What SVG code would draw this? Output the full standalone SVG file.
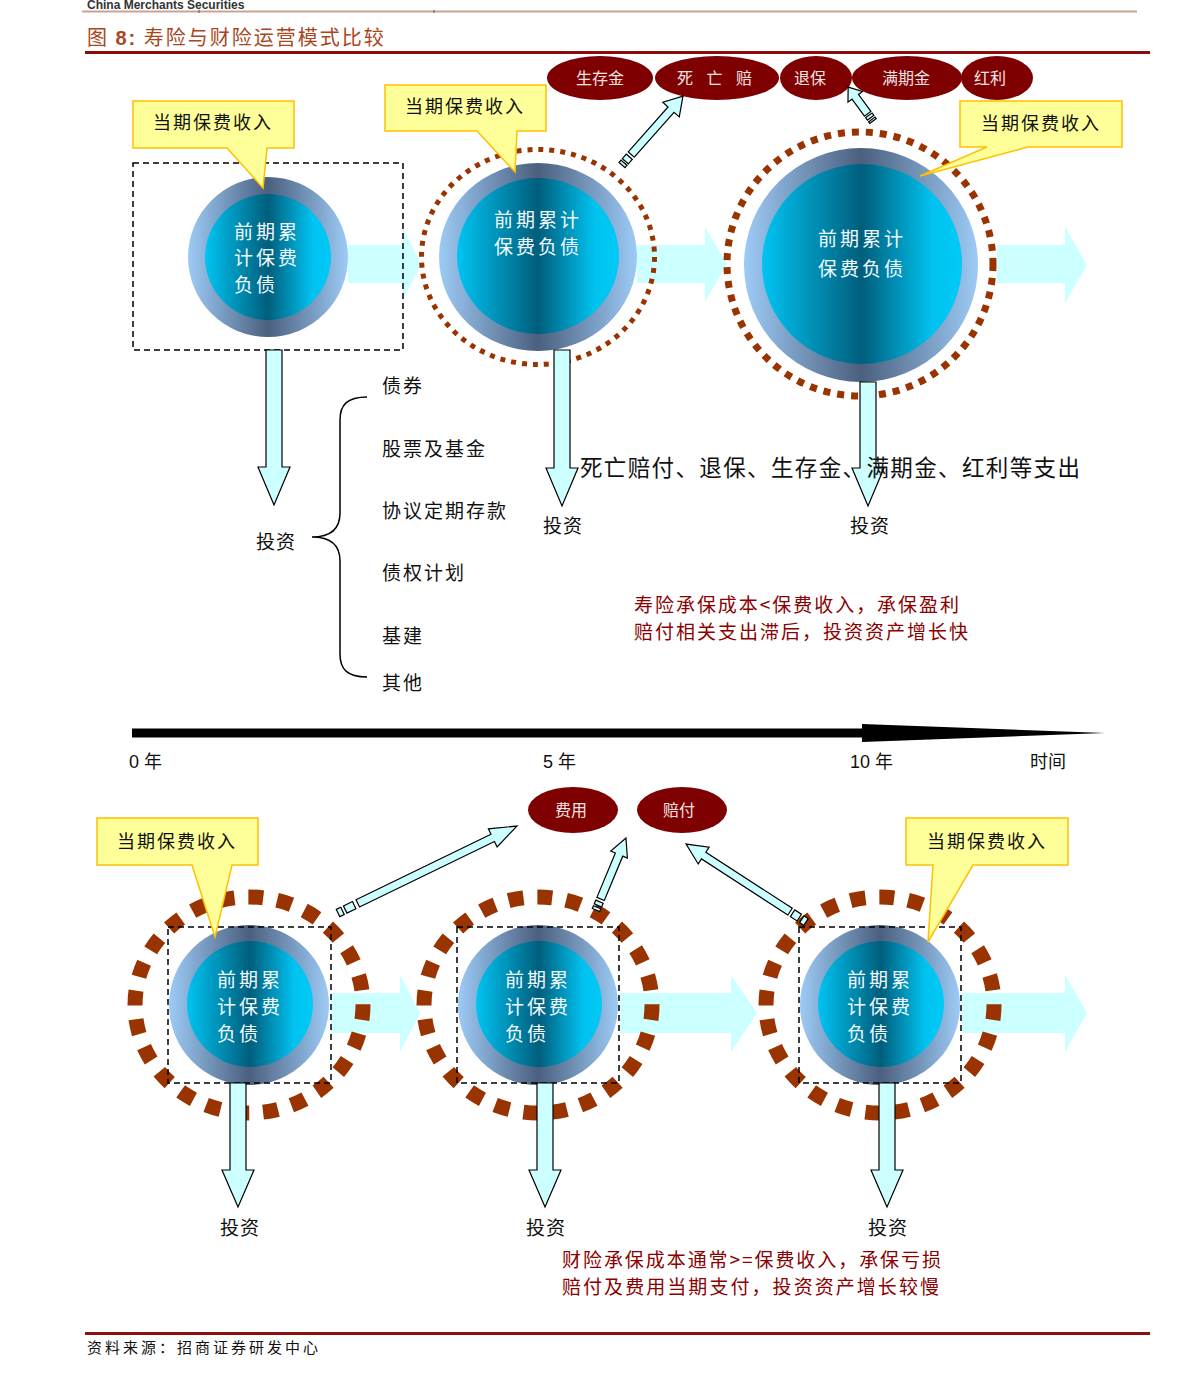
<svg xmlns="http://www.w3.org/2000/svg" width="1191" height="1378" viewBox="0 0 1191 1378">
<defs>
<linearGradient id="ringG" x1="0" y1="0" x2="1" y2="0">
<stop offset="0" stop-color="#9DCBF6"/><stop offset="0.5" stop-color="#4B5F7E"/><stop offset="1" stop-color="#9DCBF6"/>
</linearGradient>
<linearGradient id="coreG" x1="0" y1="0" x2="1" y2="0">
<stop offset="0" stop-color="#00C4F2"/><stop offset="0.5" stop-color="#005E7C"/><stop offset="0.85" stop-color="#00C2F0"/><stop offset="1" stop-color="#00CAF6"/>
</linearGradient>
<style>
.cjk{font-family:"Noto Sans CJK SC","Liberation Sans",sans-serif;}
.lat{font-family:"Liberation Sans",Arial,sans-serif;}
.lbl{font-size:19px;fill:#111;letter-spacing:1px;}
.li{font-size:19px;fill:#111;letter-spacing:2px;}
.nt{font-size:19px;fill:#F2FAFF;letter-spacing:3px;}
.call{fill:#FFFF99;stroke:#FFC000;stroke-width:1.5;}
.ct{font-size:18px;fill:#111;letter-spacing:2px;text-anchor:middle;}
.ov{fill:#7F0000;}
.ovt{font-size:16px;fill:#F4E4E4;text-anchor:middle;}
.ha{fill:#CCFFFF;stroke:none;}
.va{fill:#CCFFFF;stroke:#000;stroke-width:1.2;}
.dash{fill:none;stroke:#000;stroke-width:1.5;stroke-dasharray:6 4;}
.red{font-size:19px;fill:#8B0000;letter-spacing:1px;}
</style>
</defs>
<rect width="1191" height="1378" fill="#fff"/>

<!-- header -->
<text x="87" y="9" class="lat" font-size="12" font-weight="bold" fill="#333">China Merchants Securities</text>
<line x1="82" y1="11.5" x2="1137" y2="11.5" stroke="#C9A494" stroke-width="2"/>
<line x1="199" y1="10" x2="199" y2="13" stroke="#555" stroke-width="1"/>
<line x1="434" y1="10" x2="434" y2="13" stroke="#555" stroke-width="1"/>
<text x="87" y="45" font-size="20" fill="#A9461C" class="cjk" letter-spacing="2">图 <tspan class="lat" font-weight="bold">8:</tspan> 寿险与财险运营模式比较</text>
<line x1="85" y1="52.5" x2="1150" y2="52.5" stroke="#8B0A0A" stroke-width="3"/>

<!-- connectors -->
<g id="connectors">
<path class="ha" d="M348,245 H403 V228 L421,264 L403,300 V283 H348 Z"/>
<path class="ha" d="M637,245 H705 V227 L727,264 L705,302 V283 H637 Z"/>
<path class="ha" d="M997,245 H1065 V227 L1087,265 L1065,303 V283 H997 Z"/>
<path class="ha" d="M331,993 H400 V975 L420,1013 L400,1052 V1033 H331 Z"/>
<path class="ha" d="M620,993 H731 V975 L757,1013 L731,1052 V1033 H620 Z"/>
<path class="ha" d="M962,993 H1065 V975 L1087,1013 L1065,1052 V1033 H962 Z"/>
<path d="M132,728.5 H862 V724 L1105,733 L862,742 V737.5 H132 Z" fill="#000"/>
</g>

<!-- top node 1 -->
<g id="node-top1">
<circle cx="268" cy="257" r="80" fill="url(#ringG)"/>
<circle cx="268" cy="257" r="63" fill="url(#coreG)"/>
<text class="cjk nt" x="234" y="239">前期累</text>
<text class="cjk nt" x="234" y="265">计保费</text>
<text class="cjk nt" x="234" y="292">负债</text>
<rect class="dash" x="133" y="163" width="270" height="187"/>
</g>

<!-- top node 2 -->
<g id="node-top2">
<ellipse cx="538" cy="257" rx="116.5" ry="107.5" fill="none" stroke="#993300" stroke-width="5" stroke-dasharray="5 6"/>
<ellipse cx="538" cy="257" rx="99" ry="94" fill="url(#ringG)"/>
<ellipse cx="538" cy="256" rx="81" ry="78" fill="url(#coreG)"/>
<text class="cjk nt" x="538" y="227" text-anchor="middle" letter-spacing="4">前期累计</text>
<text class="cjk nt" x="538" y="254" text-anchor="middle" letter-spacing="4">保费负债</text>
</g>

<!-- top node 3 -->
<g id="node-top3">
<ellipse cx="860" cy="264" rx="133" ry="132" fill="none" stroke="#993300" stroke-width="7" stroke-dasharray="7 7"/>
<circle cx="861" cy="265" r="117" fill="url(#ringG)"/>
<circle cx="862" cy="264" r="100" fill="url(#coreG)"/>
<text class="cjk nt" x="862" y="246" text-anchor="middle" font-size="22" letter-spacing="2">前期累计</text>
<text class="cjk nt" x="862" y="276" text-anchor="middle" font-size="22" letter-spacing="2">保费负债</text>
</g>

<!-- top callouts -->
<g id="callout-top1">
<path class="call" d="M133,101 H294 V148 H267 L263,188 L227,148 H133 Z"/>
<text class="cjk ct" x="213" y="129">当期保费收入</text>
</g>
<g id="callout-top2">
<path class="call" d="M385,85 H546 V131 H517 L515,172 L477,131 H385 Z"/>
<text class="cjk ct" x="465" y="113">当期保费收入</text>
</g>
<g id="callout-top3">
<path class="call" d="M960,101 H1122 V147 H1028 L920,176 L987,147 H960 Z"/>
<text class="cjk ct" x="1041" y="130">当期保费收入</text>
</g>

<!-- top ovals -->
<g id="oval-shengcunjin"><ellipse class="ov" cx="600" cy="78" rx="53" ry="22"/><text class="cjk ovt" x="600" y="84">生存金</text></g>
<g id="oval-siwangpei"><ellipse class="ov" cx="717" cy="78" rx="62" ry="22"/><text class="cjk ovt" x="717" y="84" letter-spacing="5">死 亡 赔</text></g>
<g id="oval-tuibao"><ellipse class="ov" cx="816" cy="78" rx="36" ry="22"/><text class="cjk ovt" x="810" y="84">退保</text></g>
<g id="oval-manqijin"><ellipse class="ov" cx="907" cy="78" rx="55" ry="22"/><text class="cjk ovt" x="906" y="84">满期金</text></g>
<g id="oval-hongli"><ellipse class="ov" cx="997" cy="78" rx="36" ry="22"/><text class="cjk ovt" x="990" y="84">红利</text></g>

<!-- top diagonal arrows -->
<g id="diag-arrows-top">
<g transform="translate(622,165) rotate(-48.5)">
<rect class="va" x="0" y="-4" width="3" height="8"/><rect class="va" x="5" y="-4" width="6" height="8"/>
<path class="va" d="M14,-4 H74 V-11 L92,0 L74,11 V4 H14 Z"/>
</g>
<g transform="translate(873,121) rotate(-126.3)">
<rect class="va" x="0" y="-4" width="2" height="8"/><rect class="va" x="4" y="-4" width="3" height="8"/>
<path class="va" d="M9,-4 H30 V-9 L42,0 L30,9 V4 H9 Z"/>
</g>
</g>

<!-- top down arrows -->
<g id="down-arrows-top">
<path class="va" d="M266,350 H282 V467 H290 L274,505 L258,467 H266 Z"/>
<path class="va" d="M554,350 H570 V468 H578 L562,506 L546,468 H554 Z"/>
<path class="va" d="M860,382 H876 V468 H884 L868,506 L852,468 H860 Z"/>
</g>

<!-- top labels -->
<g id="top-labels">
<text class="cjk lbl" x="256" y="549">投资</text>
<text class="cjk lbl" x="543" y="533">投资</text>
<text class="cjk lbl" x="850" y="533">投资</text>
<path d="M367,397 C347,397 340,405 340,420 L340,513 C340,529 330,537 312,537 C330,537 340,545 340,561 L340,654 C340,669 347,677 367,677" fill="none" stroke="#000" stroke-width="1.5"/>
<text class="cjk li" x="382" y="393">债券</text>
<text class="cjk li" x="382" y="456">股票及基金</text>
<text class="cjk li" x="382" y="518">协议定期存款</text>
<text class="cjk li" x="382" y="580">债权计划</text>
<text class="cjk li" x="382" y="643">基建</text>
<text class="cjk li" x="382" y="690">其他</text>
<text class="cjk" x="580" y="476" font-size="22.5" fill="#111" textLength="500" lengthAdjust="spacing">死亡赔付、退保、生存金、满期金、红利等支出</text>
<text class="cjk red" x="634" y="612" textLength="326" lengthAdjust="spacing">寿险承保成本&lt;保费收入，承保盈利</text>
<text class="cjk red" x="634" y="639" textLength="335" lengthAdjust="spacing">赔付相关支出滞后，投资资产增长快</text>
</g>

<!-- timeline labels -->
<g id="timeline-labels">
<text class="lat" x="129" y="768" font-size="18" fill="#111">0 <tspan class="cjk">年</tspan></text>
<text class="lat" x="543" y="768" font-size="18" fill="#111">5 <tspan class="cjk">年</tspan></text>
<text class="lat" x="850" y="768" font-size="18" fill="#111">10 <tspan class="cjk">年</tspan></text>
<text class="cjk" x="1030" y="768" font-size="18" fill="#111">时间</text>
</g>

<!-- bottom nodes -->
<g id="node-bot1">
<ellipse cx="249" cy="1005" rx="114" ry="108" fill="none" stroke="#993300" stroke-width="15" stroke-dasharray="15 14"/>
<circle cx="249" cy="1005" r="80" fill="url(#ringG)"/>
<circle cx="250" cy="1004" r="63" fill="url(#coreG)"/>
<text class="cjk nt" x="217" y="987">前期累</text>
<text class="cjk nt" x="217" y="1014">计保费</text>
<text class="cjk nt" x="217" y="1041">负债</text>
<rect class="dash" x="168" y="927" width="163" height="156"/>
</g>
<g id="node-bot2">
<ellipse cx="538" cy="1005" rx="114" ry="108" fill="none" stroke="#993300" stroke-width="15" stroke-dasharray="15 14"/>
<circle cx="538" cy="1005" r="80" fill="url(#ringG)"/>
<circle cx="539" cy="1004" r="63" fill="url(#coreG)"/>
<text class="cjk nt" x="505" y="987">前期累</text>
<text class="cjk nt" x="505" y="1014">计保费</text>
<text class="cjk nt" x="505" y="1041">负债</text>
<rect class="dash" x="457" y="927" width="162" height="156"/>
</g>
<g id="node-bot3">
<ellipse cx="880" cy="1005" rx="114" ry="108" fill="none" stroke="#993300" stroke-width="15" stroke-dasharray="15 14"/>
<circle cx="880" cy="1005" r="80" fill="url(#ringG)"/>
<circle cx="881" cy="1004" r="63" fill="url(#coreG)"/>
<text class="cjk nt" x="847" y="987">前期累</text>
<text class="cjk nt" x="847" y="1014">计保费</text>
<text class="cjk nt" x="847" y="1041">负债</text>
<rect class="dash" x="799" y="927" width="162" height="156"/>
</g>

<!-- bottom callouts -->
<g id="callout-bot1">
<path class="call" d="M97,818 H258 V865 H232 L215,937 L192,865 H97 Z"/>
<text class="cjk ct" x="177" y="848">当期保费收入</text>
</g>
<g id="callout-bot3">
<path class="call" d="M906,818 H1068 V865 H973 L928,942 L933,865 H906 Z"/>
<text class="cjk ct" x="987" y="848">当期保费收入</text>
</g>

<!-- bottom ovals -->
<g id="oval-feiyong"><ellipse class="ov" cx="573" cy="810" rx="45" ry="23"/><text class="cjk ovt" x="571" y="816">费用</text></g>
<g id="oval-peifu"><ellipse class="ov" cx="682" cy="810" rx="45" ry="23"/><text class="cjk ovt" x="679" y="816">赔付</text></g>

<!-- bottom diagonal arrows -->
<g id="diag-arrows-bot">
<g transform="translate(338,913) rotate(-25.9)">
<rect class="va" x="0" y="-4" width="5" height="8"/><rect class="va" x="8" y="-4" width="10" height="8"/>
<path class="va" d="M22,-4 H172 V-10 L199,0 L172,10 V4 H22 Z"/>
</g>
<g transform="translate(596,910) rotate(-67.4)">
<rect class="va" x="0" y="-4" width="3" height="8"/><rect class="va" x="5" y="-4" width="4" height="8"/>
<path class="va" d="M12,-4 H60 V-9 L78,0 L60,9 V4 H12 Z"/>
</g>
<g transform="translate(806,922) rotate(-147)">
<rect class="va" x="0" y="-4" width="5" height="8"/><rect class="va" x="8" y="-4" width="8" height="8"/>
<path class="va" d="M19,-4 H122 V-10 L143,0 L122,10 V4 H19 Z"/>
</g>
</g>

<!-- bottom down arrows -->
<g id="down-arrows-bot">
<path class="va" d="M230,1083 H246 V1170 H254 L238,1207 L222,1170 H230 Z"/>
<path class="va" d="M537,1083 H553 V1170 H561 L545,1207 L529,1170 H537 Z"/>
<path class="va" d="M879,1083 H895 V1170 H903 L887,1207 L871,1170 H879 Z"/>
</g>

<g id="bottom-labels">
<text class="cjk lbl" x="220" y="1235">投资</text>
<text class="cjk lbl" x="526" y="1235">投资</text>
<text class="cjk lbl" x="868" y="1235">投资</text>
<text class="cjk red" x="562" y="1267" textLength="380" lengthAdjust="spacing">财险承保成本通常&gt;=保费收入，承保亏损</text>
<text class="cjk red" x="562" y="1294" textLength="378" lengthAdjust="spacing">赔付及费用当期支付，投资资产增长较慢</text>
</g>

<!-- footer -->
<line x1="85" y1="1333.5" x2="1150" y2="1333.5" stroke="#8B1010" stroke-width="3"/>
<text class="cjk" x="87" y="1353" font-size="15" fill="#111" letter-spacing="3">资料来源：招商证券研发中心</text>
</svg>
